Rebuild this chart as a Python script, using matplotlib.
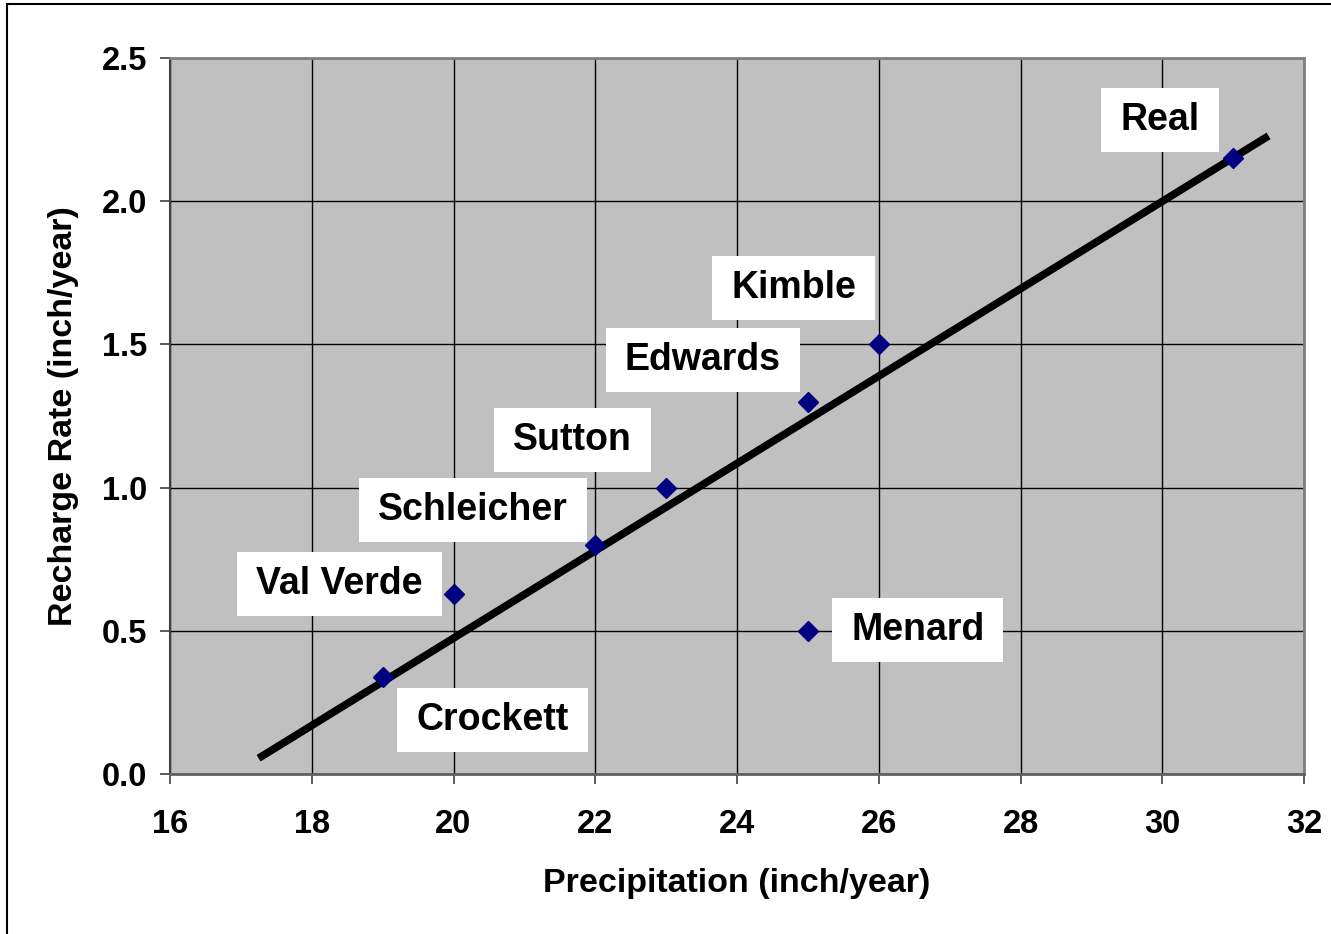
import matplotlib
matplotlib.use("Agg")
import matplotlib.pyplot as plt
from matplotlib.path import Path
from matplotlib.ticker import FormatStrFormatter
from matplotlib.patches import Rectangle

# ---- data ----
counties = ["Crockett", "Val Verde", "Schleicher", "Sutton", "Edwards", "Kimble", "Menard", "Real"]
precip = [19, 20, 22, 23, 25, 26, 25, 31]
recharge = [0.34, 0.63, 0.80, 1.00, 1.30, 1.50, 0.50, 2.15]
trend_x = [17.25, 31.5]
trend_y = [0.055, 2.228]
label_x = [20.55, 18.39, 20.27, 21.68, 23.52, 24.80, 26.55, 29.97]
label_y = [0.189, 0.663, 0.922, 1.166, 1.446, 1.697, 0.503, 2.283]
xticks = [16, 18, 20, 22, 24, 26, 28, 30, 32]
yticks = [0.0, 0.5, 1.0, 1.5, 2.0, 2.5]

plt.rcParams['font.family'] = ['Liberation Sans', 'DejaVu Sans']
plt.rcParams['font.weight'] = 'bold'

fig = plt.figure(figsize=(13.31, 9.34), dpi=100)
ax = fig.add_axes([170/1331, 1-774/934, (1304-170)/1331, (774-58)/934])
ax.set_facecolor('#C0C0C0')

ax.set_xlim(16, 32)
ax.set_ylim(0, 2.5)
ax.set_xticks(xticks)
ax.set_yticks(yticks)
ax.yaxis.set_major_formatter(FormatStrFormatter('%.1f'))
ax.grid(True, color='black', linewidth=1.0)
ax.set_axisbelow(True)

for s in ['top', 'right']:
    ax.spines[s].set_color('#808080')
    ax.spines[s].set_linewidth(2)
ax.spines['left'].set_color('#404040')
ax.spines['left'].set_linewidth(1.5)
ax.spines['bottom'].set_color('#606060')
ax.spines['bottom'].set_linewidth(2)

ax.tick_params(axis='both', direction='out', length=7.5, width=1.2, color='#404040',
               labelsize=23.5)
ax.tick_params(axis='x', pad=18)
ax.tick_params(axis='y', pad=9)
for lab in ax.get_xticklabels() + ax.get_yticklabels():
    lab.set_fontweight('bold')

ax.set_xlabel('Precipitation (inch/year)', fontsize=24.5, fontweight='bold', labelpad=20)
ax.set_ylabel('Recharge Rate (inch/year)', fontsize=24.5, fontweight='bold', labelpad=16)

ax.plot(trend_x, trend_y, color='black', linewidth=5.5, solid_capstyle='butt', zorder=3)
ax.plot(precip, recharge, linestyle='none', marker='D', markersize=10,
        color='#000080', markeredgecolor='#000080', zorder=4)


def wide_box(x0, y0, width, height, mutation_size):
    px = 0.51 * mutation_size
    py = 0.38 * mutation_size
    x0 -= px
    y0 -= py
    x1 = x0 + width + 2 * px
    y1 = y0 + height + 2 * py
    return Path([(x0, y0), (x1, y0), (x1, y1), (x0, y1), (x0, y0)], closed=True)


for name, lx, ly in zip(counties, label_x, label_y):
    ax.text(lx, ly, name, fontsize=27, fontweight='bold', ha='center', va='center',
            zorder=5,
            bbox=dict(boxstyle=wide_box, facecolor='white', edgecolor='none'))

# outer chart frame (left & top visible)
fig.patches.append(Rectangle((7/1331, -0.1), 1.2, 1.1 - 4/934, transform=fig.transFigure,
                             fill=False, edgecolor='black', linewidth=1.5))

fig.savefig('out.png', dpi=100)
